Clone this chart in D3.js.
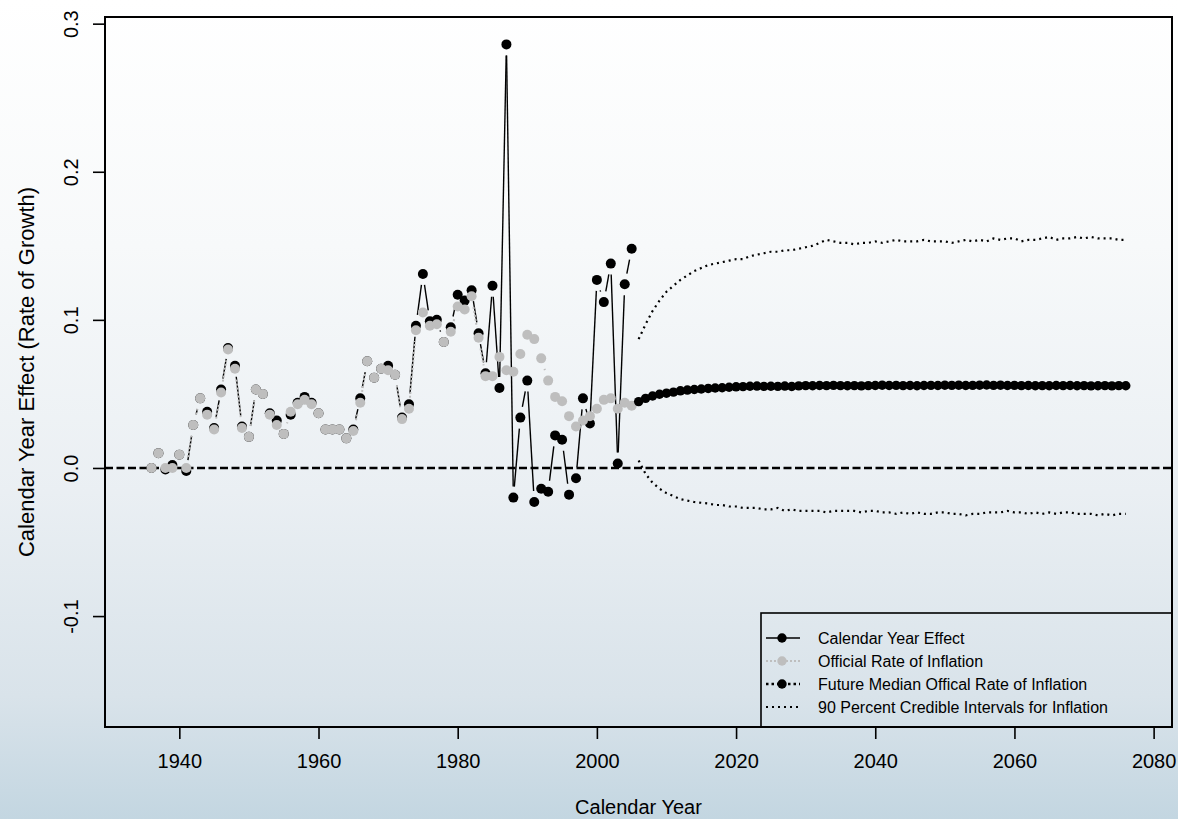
<!DOCTYPE html>
<html>
<head>
  <meta charset="utf-8">
  <title>Calendar Year Effect vs Inflation</title>
  <script src="https://d3js.org/d3.v7.min.js"></script>
  <style>
    body { margin: 0; font-family: "Liberation Sans", Arial, sans-serif; }
    svg text { fill: #000; }
  </style>
</head>
<body>
  <svg id="chart" width="1178" height="819"></svg>

  <script>
    // past years 1936..2005, future years 2006..2076
    const pastYears = d3.range(1936, 2006);
    const futureYears = d3.range(2006, 2077);

    const calendarEffect = [
      0.000, 0.010, -0.001, 0.002, 0.009, -0.002, 0.029, 0.047, 0.038, 0.027,
      0.053, 0.081, 0.069, 0.028, 0.021, 0.053, 0.050, 0.037, 0.032, 0.023,
      0.036, 0.044, 0.048, 0.044, 0.037, 0.026, 0.026, 0.026, 0.020, 0.026,
      0.047, 0.072, 0.061, 0.067, 0.069, 0.063, 0.034, 0.043, 0.096, 0.131,
      0.099, 0.100, 0.085, 0.095, 0.117, 0.113, 0.120, 0.091, 0.064, 0.123,
      0.054, 0.286, -0.020, 0.034, 0.059, -0.023, -0.014, -0.016, 0.022, 0.019,
      -0.018, -0.007, 0.047, 0.030, 0.127, 0.112, 0.138, 0.003, 0.124, 0.148
    ];

    const officialInflation = [
      0.000, 0.010, 0.000, 0.000, 0.009, 0.000, 0.029, 0.047, 0.036, 0.026,
      0.051, 0.080, 0.067, 0.027, 0.021, 0.053, 0.050, 0.036, 0.029, 0.023,
      0.038, 0.043, 0.046, 0.043, 0.037, 0.026, 0.026, 0.026, 0.020, 0.025,
      0.044, 0.072, 0.061, 0.067, 0.066, 0.063, 0.033, 0.040, 0.093, 0.105,
      0.096, 0.097, 0.085, 0.092, 0.109, 0.107, 0.116, 0.088, 0.062, 0.062,
      0.075, 0.066, 0.065, 0.077, 0.090, 0.087, 0.074, 0.059, 0.048, 0.045,
      0.035, 0.028, 0.032, 0.035, 0.040, 0.046, 0.047, 0.040, 0.044, 0.042
    ];

    const futureMedian = [
      0.0448, 0.0470, 0.0486, 0.0498, 0.0505, 0.0512, 0.0521, 0.0526, 0.0530, 0.0533,
      0.0537, 0.0540, 0.0542, 0.0545, 0.0548, 0.0549, 0.0552, 0.0553, 0.0551, 0.0552,
      0.0551, 0.0553, 0.0550, 0.0554, 0.0556, 0.0555, 0.0557, 0.0556, 0.0558, 0.0556,
      0.0555, 0.0556, 0.0554, 0.0556, 0.0557, 0.0559, 0.0557, 0.0558, 0.0556, 0.0557,
      0.0555, 0.0557, 0.0558, 0.0557, 0.0559, 0.0558, 0.0559, 0.0557, 0.0558, 0.0559,
      0.0560, 0.0558, 0.0559, 0.0557, 0.0558, 0.0556, 0.0557, 0.0555, 0.0556, 0.0555,
      0.0557, 0.0556, 0.0557, 0.0555, 0.0556, 0.0554, 0.0555, 0.0556, 0.0554, 0.0556,
      0.0555
    ];

    const upperCI = [
      0.087, 0.097, 0.106, 0.113, 0.119, 0.123, 0.127, 0.130, 0.133, 0.135,
      0.137, 0.138, 0.139, 0.140, 0.141, 0.141, 0.143, 0.144, 0.145, 0.146,
      0.146, 0.147, 0.147, 0.148, 0.149, 0.150, 0.152, 0.154, 0.153, 0.152,
      0.152, 0.151, 0.152, 0.152, 0.153, 0.152, 0.153, 0.154, 0.153, 0.153,
      0.153, 0.154, 0.153, 0.153, 0.153, 0.152, 0.153, 0.154, 0.153, 0.154,
      0.153, 0.155, 0.154, 0.155, 0.155, 0.153, 0.154, 0.154, 0.155, 0.156,
      0.154, 0.155, 0.155, 0.156, 0.155, 0.156, 0.155, 0.155, 0.155, 0.154,
      0.154
    ];

    const lowerCI = [
      0.005, -0.004, -0.010, -0.014, -0.017, -0.019, -0.021, -0.022, -0.023, -0.0235,
      -0.024, -0.025, -0.025, -0.026, -0.026, -0.027, -0.027, -0.027, -0.028, -0.028,
      -0.027, -0.029, -0.028, -0.029, -0.029, -0.029, -0.029, -0.030, -0.029, -0.029,
      -0.029, -0.029, -0.030, -0.029, -0.029, -0.030, -0.030, -0.031, -0.030, -0.031,
      -0.030, -0.031, -0.031, -0.030, -0.030, -0.031, -0.031, -0.032, -0.031, -0.031,
      -0.030, -0.030, -0.030, -0.029, -0.030, -0.030, -0.031, -0.030, -0.031, -0.030,
      -0.031, -0.030, -0.030, -0.031, -0.031, -0.031, -0.032, -0.031, -0.032, -0.031,
      -0.031
    ];

    const xTicks = [1940, 1960, 1980, 2000, 2020, 2040, 2060, 2080];
    const yTicks = [-0.1, 0.0, 0.1, 0.2, 0.3];
    const legendLabels = [
      "Calendar Year Effect",
      "Official Rate of Inflation",
      "Future Median Offical Rate of Inflation",
      "90 Percent Credible Intervals for Inflation"
    ];

    const svg = d3.select("#chart"),
          width = +svg.attr("width"),
          height = +svg.attr("height");

    // background gradient
    const defs = svg.append("defs");
    const grad = defs.append("linearGradient")
      .attr("id", "bg").attr("x1", 0).attr("y1", 0).attr("x2", 0).attr("y2", 1);
    grad.append("stop").attr("offset", "0%").attr("stop-color", "#ffffff");
    grad.append("stop").attr("offset", "30%").attr("stop-color", "#f7f9fa");
    grad.append("stop").attr("offset", "60%").attr("stop-color", "#eaeff3");
    grad.append("stop").attr("offset", "85%").attr("stop-color", "#d9e3ea");
    grad.append("stop").attr("offset", "100%").attr("stop-color", "#c3d6e1");
    svg.append("rect").attr("width", width).attr("height", height).attr("fill", "url(#bg)");

    const plot = { left: 105, right: 1172, top: 17, bottom: 727 };

    const x = d3.scaleLinear().domain([1929.32, 2082.64]).range([plot.left, plot.right]);
    const y = d3.scaleLinear().domain([-0.1749, 0.3045]).range([plot.bottom, plot.top]);

    const fontSize = 20;

    // axes
    const xAxis = svg.append("g")
      .attr("transform", `translate(0,${plot.bottom})`)
      .call(d3.axisBottom(x).tickValues(xTicks).tickFormat(d3.format("d")).tickSize(12).tickPadding(15));
    const yAxis = svg.append("g")
      .attr("transform", `translate(${plot.left},0)`)
      .call(d3.axisLeft(y).tickValues(yTicks).tickFormat(d => d3.format(".1f")(d).replace("−", "-")).tickSize(12));
    [xAxis, yAxis].forEach(g => {
      g.select(".domain").remove();
      g.selectAll(".tick line").attr("stroke", "#000").attr("stroke-width", 1.6);
      g.selectAll("text").attr("font-size", fontSize).attr("font-family", "Liberation Sans, Arial, sans-serif");
    });
    // rotated y tick labels, like R's las=0
    yAxis.selectAll(".tick text")
      .attr("x", null).attr("dy", null)
      .attr("text-anchor", "middle")
      .attr("transform", "translate(-27,0) rotate(-90)");

    // axis titles
    svg.append("text")
      .attr("x", (plot.left + plot.right) / 2).attr("y", 814)
      .attr("text-anchor", "middle").attr("font-size", fontSize)
      .text("Calendar Year");
    svg.append("text")
      .attr("transform", `translate(34,${(plot.top + plot.bottom) / 2}) rotate(-90)`)
      .attr("text-anchor", "middle").attr("font-size", 22)
      .text("Calendar Year Effect (Rate of Growth)");

    // zero reference line
    svg.append("line")
      .attr("x1", plot.left).attr("x2", plot.right)
      .attr("y1", y(0)).attr("y2", y(0))
      .attr("stroke", "#000").attr("stroke-width", 2.4)
      .attr("stroke-dasharray", "8 3.5");

    // R style type="b": segments with a gap around each point
    const gap = 11;
    function gappedSegments(years, vals) {
      const segs = [];
      for (let i = 0; i < years.length - 1; i++) {
        const x0 = x(years[i]), y0 = y(vals[i]), x1 = x(years[i + 1]), y1 = y(vals[i + 1]);
        const dx = x1 - x0, dy = y1 - y0, d = Math.hypot(dx, dy);
        if (d <= 2 * gap) continue;
        const ux = dx / d, uy = dy / d;
        segs.push([x0 + ux * gap, y0 + uy * gap, x1 - ux * gap, y1 - uy * gap]);
      }
      return segs;
    }

    const g = svg.append("g");

    // calendar year effect: solid black
    g.selectAll(".seg-cal")
      .data(gappedSegments(pastYears, calendarEffect))
      .join("line")
      .attr("x1", d => d[0]).attr("y1", d => d[1]).attr("x2", d => d[2]).attr("y2", d => d[3])
      .attr("stroke", "#000").attr("stroke-width", 1.4);
    g.selectAll(".pt-cal")
      .data(pastYears.map((yr, i) => [yr, calendarEffect[i]]))
      .join("circle")
      .attr("cx", d => x(d[0])).attr("cy", d => y(d[1])).attr("r", 5)
      .attr("fill", "#000");

    // official inflation: grey dotted
    g.selectAll(".seg-inf")
      .data(gappedSegments(pastYears, officialInflation))
      .join("line")
      .attr("x1", d => d[0]).attr("y1", d => d[1]).attr("x2", d => d[2]).attr("y2", d => d[3])
      .attr("stroke", "#bebebe").attr("stroke-width", 2).attr("stroke-dasharray", "2 2");
    g.selectAll(".pt-inf")
      .data(pastYears.map((yr, i) => [yr, officialInflation[i]]))
      .join("circle")
      .attr("cx", d => x(d[0])).attr("cy", d => y(d[1])).attr("r", 5)
      .attr("fill", "#bebebe");

    // credible intervals: black dotted
    const line = d3.line().x(d => x(d[0])).y(d => y(d[1]));
    [upperCI, lowerCI].forEach(vals => {
      g.append("path")
        .datum(futureYears.map((yr, i) => [yr, vals[i]]))
        .attr("d", line)
        .attr("fill", "none").attr("stroke", "#000")
        .attr("stroke-width", 2.2).attr("stroke-dasharray", "2 4");
    });

    // future median: black points
    g.selectAll(".pt-med")
      .data(futureYears.map((yr, i) => [yr, futureMedian[i]]))
      .join("circle")
      .attr("cx", d => x(d[0])).attr("cy", d => y(d[1])).attr("r", 4.7)
      .attr("fill", "#000");

    // plot box
    svg.append("rect")
      .attr("x", plot.left).attr("y", plot.top)
      .attr("width", plot.right - plot.left).attr("height", plot.bottom - plot.top)
      .attr("fill", "none").attr("stroke", "#000").attr("stroke-width", 2);

    // legend
    const legend = svg.append("g");
    legend.append("rect")
      .attr("x", 761).attr("y", 613)
      .attr("width", plot.right - 761).attr("height", plot.bottom - 613)
      .attr("fill", "none").attr("stroke", "#000").attr("stroke-width", 1.6);

    const legendStyles = [
      { color: "#000", dash: null, width: 1.6, point: true },
      { color: "#bebebe", dash: "2 2", width: 2, point: true },
      { color: "#000", dash: "2.5 3", width: 2.5, point: true },
      { color: "#000", dash: "2 4", width: 2.2, point: false }
    ];

    const row = legend.selectAll(".row")
      .data(legendLabels)
      .join("g")
      .attr("transform", (d, i) => `translate(0,${638 + i * 23})`);
    row.append("line")
      .attr("x1", 766).attr("x2", 800).attr("y1", 0).attr("y2", 0)
      .attr("stroke", (d, i) => legendStyles[i].color)
      .attr("stroke-width", (d, i) => legendStyles[i].width)
      .attr("stroke-dasharray", (d, i) => legendStyles[i].dash);
    row.filter((d, i) => legendStyles[i].point)
      .append("circle")
      .attr("cx", 782).attr("cy", 0).attr("r", 4.7)
      .attr("fill", (d, i) => legendStyles[legendLabels.indexOf(d)].color);
    row.append("text")
      .attr("x", 818).attr("y", 0).attr("dy", "0.35em")
      .attr("font-size", 16)
      .text(d => d);
  </script>
</body>
</html>
